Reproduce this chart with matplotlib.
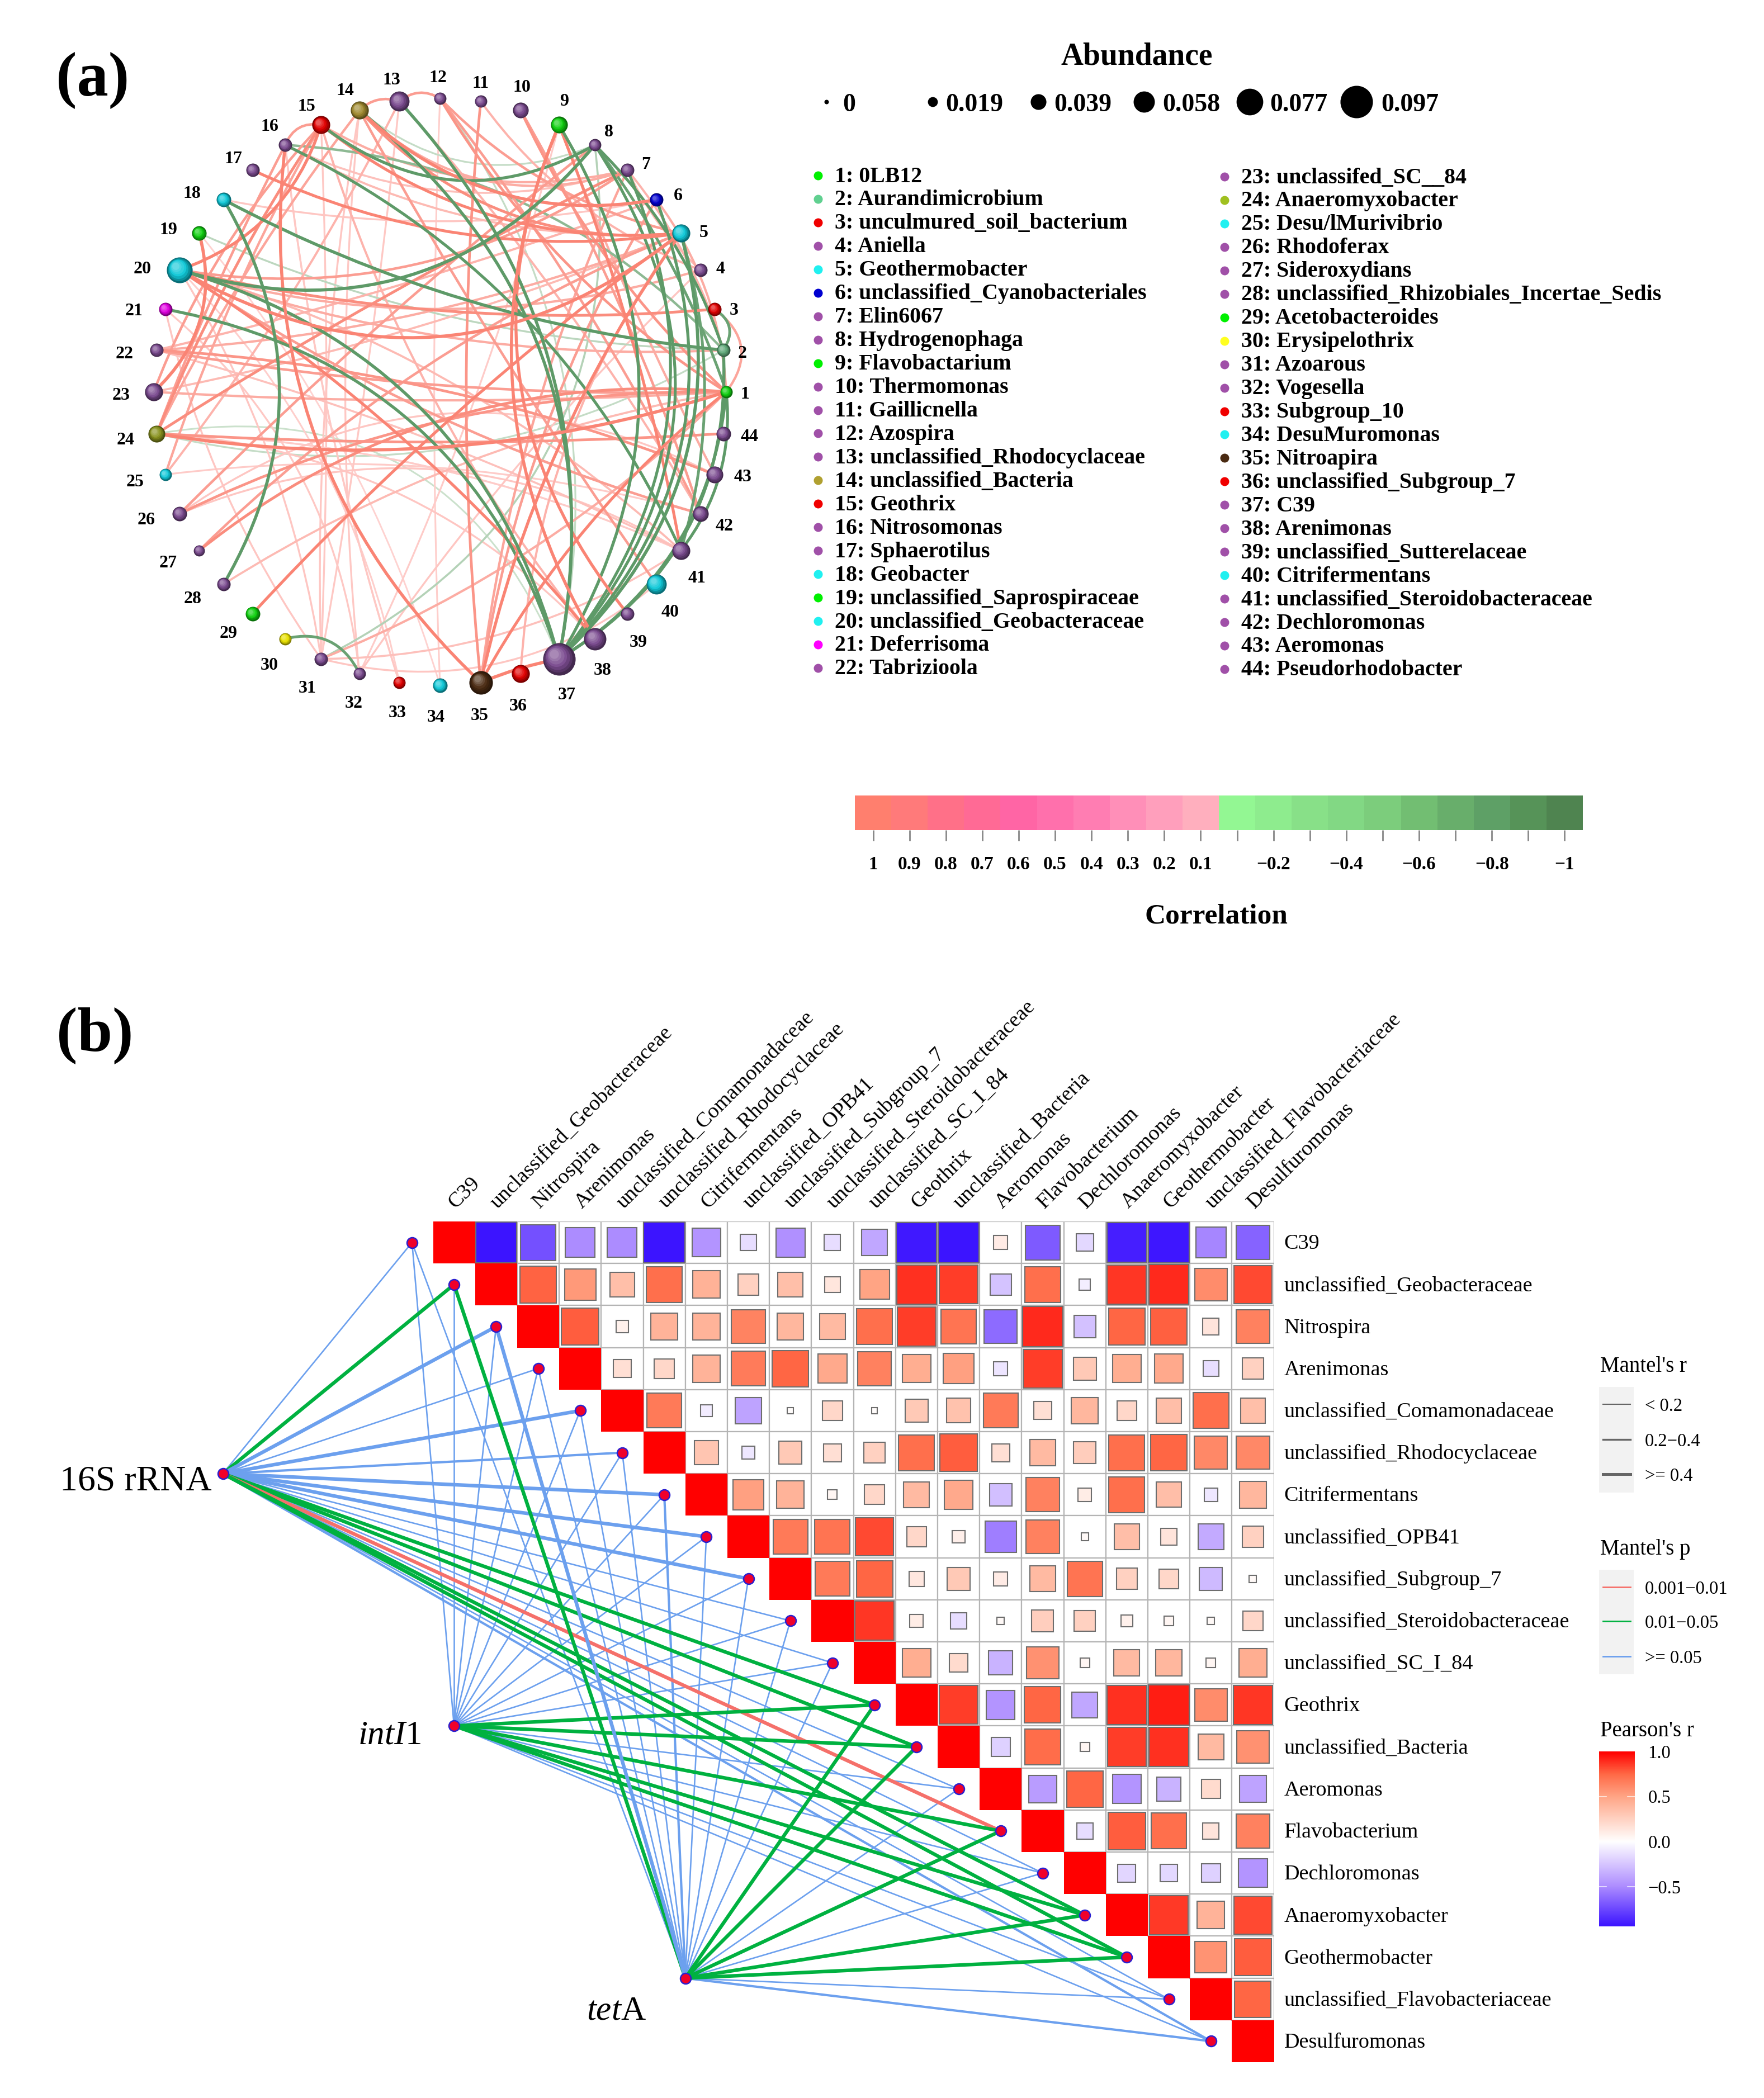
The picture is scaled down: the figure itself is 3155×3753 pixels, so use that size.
import numpy as np
import matplotlib
matplotlib.use("Agg")
import matplotlib.pyplot as plt
from matplotlib.path import Path
from matplotlib.patches import PathPatch, Rectangle
from matplotlib.colors import LinearSegmentedColormap, to_rgb

plt.rcParams['font.family'] = ['Liberation Serif', 'DejaVu Serif']
plt.rcParams['mathtext.fontset'] = 'custom'
plt.rcParams['mathtext.it'] = 'Liberation Serif:italic'
plt.rcParams['mathtext.rm'] = 'Liberation Serif'

# ---------- data: panel (a) ----------
genus_names = ["0LB12","Aurandimicrobium","unculmured_soil_bacterium","Aniella","Geothermobacter",
 "unclassified_Cyanobacteriales","Elin6067","Hydrogenophaga","Flavobactarium","Thermomonas","Gaillicnella",
 "Azospira","unclassified_Rhodocyclaceae","unclassified_Bacteria","Geothrix","Nitrosomonas","Sphaerotilus",
 "Geobacter","unclassified_Saprospiraceae","unclassified_Geobacteraceae","Deferrisoma","Tabrizioola",
 "unclassifed_SC__84","Anaeromyxobacter","Desu/lMurivibrio","Rhodoferax","Sideroxydians",
 "unclassified_Rhizobiales_Incertae_Sedis","Acetobacteroides","Erysipelothrix","Azoarous","Vogesella",
 "Subgroup_10","DesuMuromonas","Nitroapira","unclassified_Subgroup_7","C39","Arenimonas",
 "unclassified_Sutterelaceae","Citrifermentans","unclassified_Steroidobacteraceae","Dechloromonas",
 "Aeromonas","Pseudorhodobacter"]
P="#7A4A8E"; C="#10C8D8"; G="#10D010"; R="#E00000"
genus_colors = [G,"#5FA878",R,P,C,"#0000D0",P,P,G,P,P,P,P,"#A08A30",R,P,P,C,G,C,"#E000E0",P,P,"#88921E",
 C,P,P,P,G,"#E8E000",P,P,R,C,"#4A2A12",R,P,P,P,C,P,P,P,P]
abundance = [.027,.031,.031,.031,.047,.031,.031,.027,.043,.039,.027,.027,.054,.047,.047,.031,.031,.035,.035,
 .074,.031,.031,.047,.043,.027,.035,.023,.031,.035,.027,.031,.027,.027,.035,.066,.047,.097,.062,.031,.054,
 .047,.039,.043,.035]
abundance_ticks = [0,.019,.039,.058,.077,.097]
corr_ticks = [1,.9,.8,.7,.6,.5,.4,.3,.2,.1,-.1,-.2,-.3,-.4,-.5,-.6,-.7,-.8,-.9,-1]
corr_colors = ["#FF7F6E","#FF7A7A","#FF7088","#FF6A95","#FF65A5","#FF70AC","#FF7DB2","#FF8FB8","#FF9FBC","#FFAFBE",
 "#93F793","#8EEC8E","#88E088","#82D884","#7CCD7C","#72BE72","#68AE6B","#5EA066","#569358","#4F8450"]

edge_from = [20,15,14,18,18,19,21,20,16,14, 13,9,8,7,6,5,2,1,8,8, 3,30,24,31,12,24,16,5,1,
 20,20,20,20,20,20,20,15,19,15, 13,12,14,14,14,15,16,17,16,15, 12,12,11,10,11,24,24,24,24,24,
 23,23,22,22,25,25,26,26,27,27, 28,29,35,35,35,35,35,35,38,39, 38,40,42,43,41,31,31,32,31,33,
 34,31,20,9,9,10,13,12,1,6, 7,7,36,24,22,23,24,25,26,24,
 20,21,16,19,15,13,24,26,31,32,32,18]
edge_to = [8,8,8,2,28,2,37,37,41,37, 37,37,37,37,37,37,37,37,2,1, 2,32,37,8,37,2,2,41,41,
 5,7,3,2,4,38,41,20,23,16, 14,13,6,5,7,5,5,5,7,7, 5,1,4,1,35,1,44,15,14,7,
 15,1,1,6,15,13,8,1,1,5, 1,5,37,5,1,16,6,7,9,9, 15,14,20,22,22,1,41,4,14,16,
 12,21,31,41,43,42,42,42,3,1, 2,4,5,16,5,5,38,42,43,41,
 33,32,33,34,31,31,41,41,40,14,9,6]
edge_corr = [-.9,-.8,-.25,-.85,-.85,-.3,-.8,-.85,-.75,-.85, -.85,-.8,-.75,-.75,-.8,-.9,-.85,-.8,-.75,-.7,
 -.7,-.7,-.2,-.35,-.25,-.25,-.55,-.7,-.75,
 .9,.6,.7,.5,.5,.75,.4,.8,.9,.6, .6,.6,.85,.7,.5,.75,.4,.75,.35,.5, .6,.65,.45,.65,.65,.9,.65,.7,.55,.7,
 .6,.5,.6,.45,.55,.45,.6,.65,.7,.6, .4,.75,.9,.8,.75,.85,.6,.55,.85,.8, .45,.6,.6,.65,.35,.5,.35,.3,.3,.25,
 .22,.3,.3,.75,.5,.6,.45,.6,.55,.5, .45,.4,.45,.6,.5,.4,.3,.25,.3,.25,
 .22,.28,.28,.18,.28,.28,.2,.3,.3,.28,.25,.3]
edge_bend = [-.33,-.33,-.3,-.1,.29,-.1,.3,.28,.18,.3, .25,.3,.38,.3,.32,.3,.3,.25,.12,.08,
 .5,.4,.4,-.35,.22,-.2,.2,.15,.2,
 -.34,-.2,-.08,-.1,-.15,.08,.12,.25,.3,-.4, -.3,-.35,-.25,-.25,-.3,-.2,-.15,-.15,-.2,-.2,
 -.15,-.12,-.15,-.1,-.05,-.12,-.03,.05,.05,.03, .1,-.03,-.05,-.03,.05,-.05,.03,.12,.2,.1,
 .1,.05,.05,.1,.1,.25,.1,.08,.25,.3, .1,.03,.08,-.08,-.05,-.1,-.15,.05,.05,.05,
 .02,.1,.1,.05,-.03,.05,.05,.05,-.5,.15, .1,-.1,.15,.03,-.08,-.05,.2,.1,.3,.1,
 .15,.2,-.05,.1,.02,.02,.1,.25,-.25,.05,-.05,-.1]

# ---------- data: panel (b) ----------
taxa = ["C39","unclassified_Geobacteraceae","Nitrospira","Arenimonas","unclassified_Comamonadaceae",
 "unclassified_Rhodocyclaceae","Citrifermentans","unclassified_OPB41","unclassified_Subgroup_7",
 "unclassified_Steroidobacteraceae","unclassified_SC_I_84","Geothrix","unclassified_Bacteria","Aeromonas",
 "Flavobacterium","Dechloromonas","Anaeromyxobacter","Geothermobacter","unclassified_Flavobacteriaceae",
 "Desulfuromonas"]
pearson_upper = [
 [-.95,-.72,-.5,-.5,-.95,-.47,-.15,-.48,-.15,-.38,-.92,-.95,.11,-.68,-.17,-.9,-.93,-.52,-.65],
 [.76,.55,.35,.72,.43,.25,.35,.14,.5,.88,.85,-.26,.72,-.07,.87,.9,.6,.82],
 [.78,.08,.42,.42,.64,.4,.38,.72,.85,.7,-.62,.9,-.27,.75,.77,.15,.65],
 [.18,.22,.42,.67,.75,.47,.65,.45,.52,-.11,.85,.3,.45,.47,-.14,.25],
 [.68,-.08,-.4,.02,.22,.02,.3,.34,.68,.18,.4,.22,.36,.72,.35],
 [.32,-.1,.3,.18,.25,.72,.78,.18,.38,.28,.72,.75,.62,.62],
 [.52,.42,.05,.22,.38,.47,-.28,.65,.1,.72,.36,-.1,.4],
 [.68,.7,.82,.22,.09,-.55,.65,.03,.36,.15,-.37,.25],
 [.68,.75,.13,.3,.11,.38,.7,.25,.22,-.3,.03],
 [.87,.1,-.15,.03,.27,.25,.08,.05,.03,.22],
 [.45,.2,-.33,.58,.05,.38,.4,.05,.45],
 [.85,-.47,.75,-.38,.88,.93,.6,.87],
 [-.2,.73,.05,.85,.88,.38,.58],
 [-.43,.75,-.47,-.33,.2,-.4],
 [-.15,.78,.72,.15,.65],
 [-.18,-.17,-.2,-.47],
 [.86,.42,.82],
 [.57,.78],
 [.75]]
hubs = ["16S rRNA","intI1","tetA"]
# Mantel class per taxon: p class 0 = 0.001-0.01, 1 = 0.01-0.05, 2 = >=0.05 ; r class 0,1,2
mantel_p_16S  = [2,1,2,2,2,2,2,2,2,2,2,1,1,2,0,2,1,1,2,2]
mantel_r_16S  = [0,2,2,0,2,1,2,2,2,0,0,2,2,0,2,0,2,2,0,1]
mantel_p_intI = [2,2,2,2,2,2,2,2,2,2,2,1,1,2,1,2,1,1,2,2]
mantel_r_intI = [0,0,0,0,0,0,0,0,0,0,0,2,2,0,2,0,2,2,0,0]
mantel_p_tetA = [2,1,2,2,2,2,2,2,2,2,2,1,1,2,1,2,1,1,2,2]
mantel_r_tetA = [0,2,2,0,0,0,1,0,0,0,0,2,2,0,2,0,2,2,0,1]

W, H = 3155, 3753
DPI = 100
fig = plt.figure(figsize=(W/DPI, H/DPI), dpi=DPI, facecolor='white')

def rect(x0, y0, x1, y1):
    return [x0/W, 1-y1/H, (x1-x0)/W, (y1-y0)/H]

ov = fig.add_axes([0,0,1,1], zorder=5)
ov.set_xlim(0, W); ov.set_ylim(H, 0); ov.axis('off'); ov.patch.set_alpha(0)

# ========== panel (a) network ==========
CX, CY, RX, RY = 787, 701, 512, 525
PADX = 1.35; PADY = 1.35
net = fig.add_axes(rect(CX-PADX*RX, CY-PADY*RY, CX+PADX*RX, CY+PADY*RY))
net.set_xlim(-PADX, PADX); net.set_ylim(-PADY, PADY); net.axis('off')
theta = 2*np.pi*np.arange(44)/44
nx, ny = np.cos(theta), np.sin(theta)

def mix(c1, c2, t):
    a, b = np.array(to_rgb(c1)), np.array(to_rgb(c2))
    return tuple(a + (b-a)*t)

order = np.argsort(np.abs(edge_corr))
for k in order:
    a, b, c, bend = edge_from[k]-1, edge_to[k]-1, edge_corr[k], edge_bend[k]
    p0 = np.array([nx[a]*RX, ny[a]*RY]); p1 = np.array([nx[b]*RX, ny[b]*RY])
    d = p1-p0
    ctrl = (p0+p1)/2 + bend*np.array([-d[1], d[0]])
    pts = [(p0[0]/RX, p0[1]/RY), (ctrl[0]/RX, ctrl[1]/RY), (p1[0]/RX, p1[1]/RY)]
    t = min(1, (abs(c)/.75)**1.5)
    col = mix("#FFDCDC", "#FA8474", t) if c > 0 else mix("#DCECDC", "#5E9A68", t)
    net.add_patch(PathPatch(Path(pts, [Path.MOVETO, Path.CURVE3, Path.CURVE3]), fc='none', ec=col,
                            lw=1.6+2.8*abs(c), capstyle='round', zorder=2))

def radius_px(a):
    return 4 + 258*np.asarray(a)

def sphere(ax, x, y, r_px, col, sx, sy, z=5, layers=7):
    """shaded ball; r_px is the radius in pixels, sx, sy convert px into data units"""
    dark = mix(col, "#000000", .45); light = mix(col, "#FFFFFF", .35)
    for i in range(layers):
        f = i/(layers-1)
        rr = r_px*(1-.72*f)
        off = r_px*.3*f
        c = mix(dark, col, min(1, f*2.2)) if f < .45 else mix(col, light, (f-.45)/.55)
        ax.scatter([x-off*sx], [y+off*sy], s=(2*rr*72/DPI)**2, color=[c], lw=0, zorder=z+i*.01)

for i in range(44):
    sphere(net, nx[i], ny[i], radius_px(abundance[i]), genus_colors[i], 1/RX, 1/RY)

label_zoom_xy = [(1492,788),(1487,700),(1470,607),(1443,518),(1410,440),(1358,360),(1294,292),(1220,222),(1130,156),
 (1045,126),(963,117),(878,105),(785,110),(692,133),(614,167),(540,210),(467,280),(385,355),(338,434),(285,518),
 (268,608),(249,701),(243,791),(252,887),(271,977),(293,1060),(337,1152),(386,1230),(458,1304),(539,1373),
 (616,1423),(709,1455),(796,1476),(873,1485),(961,1482),(1038,1461),(1135,1437),(1207,1384),(1279,1324),
 (1343,1259),(1396,1185),(1451,1073),(1488,967),(1501,880)]
for i, (zx, zy) in enumerate(label_zoom_xy):
    ov.text(zx/1.12, 52+zy/1.206, str(i+1), fontsize=23, fontweight='bold', ha='center', va='center')

ov.text(166, 143, "(a)", fontsize=81, fontweight='bold', ha='center', va='center')
ov.text(170, 1852, "(b)", fontsize=81, fontweight='bold', ha='center', va='center')

# abundance legend
ov.text(2033, 102, "Abundance", fontsize=40, fontweight='bold', ha='center', va='center')
leg_x = [1478, 1668, 1857, 2046, 2235, 2426]
leg_tx = [1507, 1691, 1885, 2079, 2271, 2470]
for a, lx, tx in zip(abundance_ticks, leg_x, leg_tx):
    ov.scatter([lx], [182], s=(2*radius_px(a)*72/DPI)**2, color='black', lw=0)
    ov.text(tx, 188, f"{a:g}", fontsize=33, fontweight='bold', ha='left', va='center')

# genus legend
LEG_DOT = {P: "#A050A8", C: "#20F0F0", G: "#00F000", R: "#F00000", "#E000E0": "#FF00FF", "#5FA878": "#60D090",
           "#A08A30": "#B0A030", "#88921E": "#A0C020", "#E8E000": "#FFFF20"}
for i, (name, col) in enumerate(zip(genus_names, genus_colors)):
    if i < 22:
        x0, y = 1463, 314 + i*41.95
    else:
        x0, y = 2190, 316 + (i-22)*41.95
    ov.scatter([x0], [y], s=(16*72/DPI)**2, color=[LEG_DOT.get(col, col)], lw=0)
    ov.text(x0+30, y+2, f"{i+1}: {name}", fontsize=28.7, fontweight='bold', ha='left', va='center')

# correlation bar
cb = fig.add_axes(rect(1529, 1423, 2831, 1485))
cb.bar(np.arange(20), np.ones(20), width=1, color=corr_colors, lw=0)
cb.set_xlim(-.5, 19.5); cb.set_ylim(0, 1)
for s in cb.spines.values():
    s.set_visible(False)
cb.set_yticks([])
cb.set_xticks(np.arange(20))
cb.set_xticklabels([f"{v:g}".replace('-', '\u2212') if (v > 0 or round(v*10) % 2 == 0) else "" for v in corr_ticks],
                   fontsize=24, fontweight='bold')
cb.tick_params(axis='x', length=14, width=2, color='#888888', pad=19)
ov.text(2175, 1639, "Correlation", fontsize=37, fontweight='bold', ha='center', va='center')

# ========== panel (b) ==========
CELL = 75.2
hm = fig.add_axes(rect(774.5, 2185, 774.5+20*CELL, 2185+20*CELL))
hm.set_xlim(-.5, 19.5); hm.set_ylim(19.5, -.5); hm.axis('off')
cmap = LinearSegmentedColormap.from_list("pr", [(0, "#3C14FF"), (.235, "#B090FF"), (.485, "#FFFFFF"),
                                                (.742, "#FFA586"), (.871, "#FF6946"), (1, "#FF0000")])
vmin, vmax = -.94, 1.0
def rc(v):
    return cmap((v-vmin)/(vmax-vmin))

hub_xy = [(-5.5, 5.5), (0, 11.5), (5.5, 17.5)]
P_COL = ["#F5706A", "#00B140", "#6CA0EE"]
R_LW = [1.9, 3.0, 4.6]
mantel_p = [mantel_p_16S, mantel_p_intI, mantel_p_tetA]
mantel_r = [mantel_r_16S, mantel_r_intI, mantel_r_tetA]
segs = []
for h, (hx, hy) in enumerate(hub_xy):
    for i in range(20):
        segs.append((R_LW[mantel_r[h][i]], P_COL[mantel_p[h][i]], hx, hy, i))
segs.sort(key=lambda s: s[0])
for lw, col, hx, hy, i in segs:
    hm.plot([hx, i-1], [hy, i], color=col, lw=lw, clip_on=False, zorder=1, solid_capstyle='round')
nodes_x = list(np.arange(20)-1) + [h[0] for h in hub_xy]
nodes_y = list(np.arange(20)) + [h[1] for h in hub_xy]
hm.scatter(nodes_x, nodes_y, s=(19*72/DPI)**2, color='#F0002A', edgecolor='#2A20D0', lw=1.8, clip_on=False, zorder=6)

for i in range(20):
    hm.add_patch(Rectangle((i-.5, i-.5), 1, 1, fc=rc(1.0), ec='none', zorder=3))
    for off, v in enumerate(pearson_upper[i] if i < 19 else []):
        j = i+1+off
        hm.add_patch(Rectangle((j-.5, i-.5), 1, 1, fc='white', ec='#B4B4B4', lw=1.6, zorder=2.5))
        side = min(.98, np.sqrt(abs(v)))
        hm.add_patch(Rectangle((j-side/2, i-side/2), side, side, fc=rc(v), ec='#6E6E6E', lw=1.5, zorder=3))
    hm.text(19.5+.24, i+.03, taxa[i], fontsize=27.5, ha='left', va='center', clip_on=False)
    hm.text(i+.11, -.72, taxa[i], fontsize=27.5, rotation=45, rotation_mode='anchor', ha='left', va='bottom', clip_on=False)

ov.text(243, 2650, "16S rRNA", fontsize=46, ha='center', va='center')
ov.text(697, 3105, r"$\mathit{intI}$1", fontsize=44, ha='center', va='center')
ov.text(1102, 3598, r"$\mathit{tet}$A", fontsize=44, ha='center', va='center')

# legends of panel (b)
TXT = 23.5; TITLE = 28
ov.text(2862, 2445, "Mantel's r", fontsize=TITLE, ha='left', va='center')
ov.add_patch(Rectangle((2860, 2481), 62, 189, fc='#F2F2F2', ec='none'))
for y, lab, lw in zip([2512, 2575, 2637], ["< 0.2", "0.2\u22120.4", ">= 0.4"], [1.5, 2.4, 3.6]):
    ov.plot([2867, 2916], [y, y], color='#666666', lw=lw)
    ov.text(2942, y+4, lab, fontsize=TXT, ha='left', va='center')
ov.text(2862, 2771, "Mantel's p", fontsize=TITLE, ha='left', va='center')
ov.add_patch(Rectangle((2860, 2808), 62, 187, fc='#F2F2F2', ec='none'))
for y, lab, col in zip([2839, 2900, 2963], ["0.001\u22120.01", "0.01\u22120.05", ">= 0.05"], P_COL):
    ov.plot([2867, 2916], [y, y], color=col, lw=2)
    ov.text(2942, y+4, lab, fontsize=TXT, ha='left', va='center')
ov.text(2862, 3096, "Pearson's r", fontsize=TITLE, ha='left', va='center')

pc = fig.add_axes(rect(2860, 3133, 2924, 3446))
grad = np.linspace(vmax, vmin, 256).reshape(-1, 1)
pc.imshow(grad, cmap=cmap, vmin=vmin, vmax=vmax, aspect='auto', extent=[0, 1, vmin, vmax])
for s in pc.spines.values():
    s.set_visible(False)
pc.set_xticks([])
pc.yaxis.tick_right()
pc.set_yticks([1.0, .5, 0, -.5])
pc.set_yticklabels(["1.0", "0.5", "0.0", "\u22120.5"], fontsize=TXT)
pc.tick_params(axis='y', length=0, pad=17)
for v in [.5, -.5]:
    pc.plot([0, .2], [v, v], color='white', lw=1.2, alpha=.8)
    pc.plot([.8, 1], [v, v], color='white', lw=1.2, alpha=.8)
pc.set_xlim(0, 1); pc.set_ylim(vmin, vmax)

fig.savefig("out.png", dpi=DPI, facecolor='white')
